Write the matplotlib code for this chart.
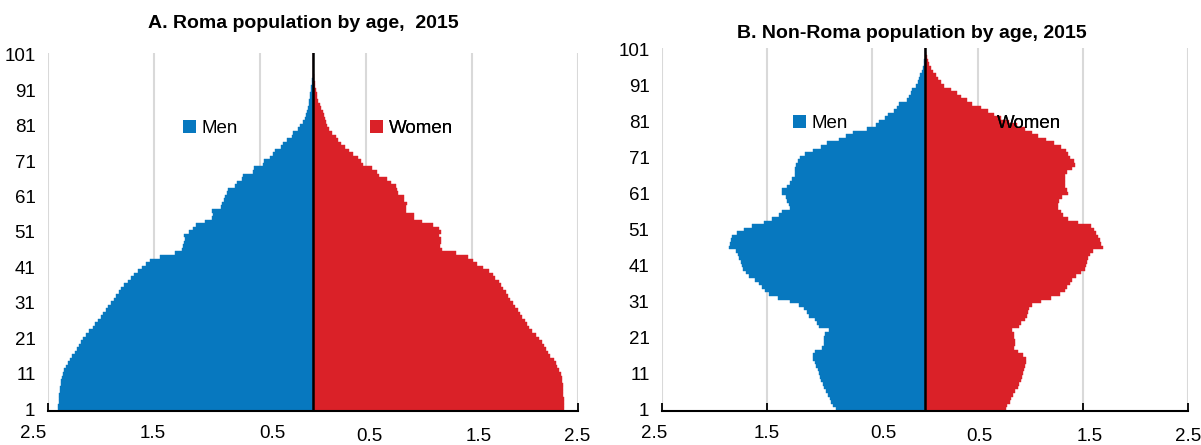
import matplotlib
matplotlib.use("Agg")
import matplotlib.pyplot as plt
from matplotlib import font_manager
from matplotlib.transforms import ScaledTranslation
from matplotlib.patches import Patch
import numpy as np

# ---------------- data ----------------
ages = list(range(1, 102))
ytick_vals = list(range(1, 102, 10))
xtick_vals = [-2.5, -1.5, -0.5, 0.5, 1.5, 2.5]
xtick_labels = ["2.5", "1.5", "0.5", "0.5", "1.5", "2.5"]

roma_men = [
    2.41, 2.41, 2.40, 2.40, 2.40, 2.39, 2.39, 2.38, 2.38, 2.37,
    2.36, 2.35, 2.33, 2.31, 2.29, 2.27, 2.25, 2.23, 2.21, 2.19,
    2.17, 2.14, 2.11, 2.08, 2.06, 2.03, 2.00, 1.98, 1.95, 1.93,
    1.91, 1.88, 1.86, 1.83, 1.81, 1.78, 1.75, 1.72, 1.69, 1.65,
    1.61, 1.58, 1.54, 1.44, 1.30, 1.24, 1.23, 1.22, 1.21, 1.22,
    1.17, 1.13, 1.10, 1.02, 0.95, 0.94, 0.95, 0.87, 0.86, 0.84,
    0.83, 0.81, 0.80, 0.74, 0.72, 0.67, 0.66, 0.57, 0.56, 0.47,
    0.46, 0.41, 0.38, 0.36, 0.30, 0.28, 0.25, 0.20, 0.19, 0.14,
    0.12, 0.09, 0.08, 0.07, 0.06, 0.05, 0.04, 0.035, 0.03, 0.025,
    0.02, 0.015, 0.01, 0.007, 0.004, 0.002, 0.001, 0.0, 0.0, 0.0, 0.0]

roma_women = [
    2.37, 2.37, 2.37, 2.37, 2.36, 2.36, 2.36, 2.36, 2.35, 2.35,
    2.34, 2.32, 2.30, 2.29, 2.27, 2.24, 2.22, 2.20, 2.18, 2.16,
    2.13, 2.10, 2.07, 2.04, 2.02, 2.00, 1.97, 1.95, 1.93, 1.91,
    1.89, 1.86, 1.84, 1.82, 1.79, 1.77, 1.75, 1.72, 1.70, 1.66,
    1.60, 1.55, 1.51, 1.46, 1.35, 1.22, 1.20, 1.21, 1.21, 1.19,
    1.21, 1.19, 1.13, 1.03, 0.95, 0.95, 0.88, 0.88, 0.89, 0.86,
    0.86, 0.80, 0.79, 0.78, 0.74, 0.70, 0.62, 0.60, 0.56, 0.47,
    0.45, 0.42, 0.38, 0.34, 0.30, 0.26, 0.24, 0.22, 0.18, 0.15,
    0.13, 0.12, 0.11, 0.10, 0.09, 0.08, 0.07, 0.05, 0.04, 0.035,
    0.025, 0.02, 0.015, 0.01, 0.006, 0.004, 0.002, 0.001, 0.0, 0.0, 0.0]

nonroma_men = [
    0.85, 0.87, 0.89, 0.90, 0.92, 0.94, 0.96, 0.97, 0.99, 1.00,
    1.01, 1.02, 1.04, 1.05, 1.06, 1.06, 1.05, 0.98, 0.96, 0.96,
    0.96, 0.95, 0.91, 1.01, 1.03, 1.05, 1.10, 1.12, 1.15, 1.20,
    1.28, 1.40, 1.48, 1.52, 1.55, 1.58, 1.62, 1.67, 1.70, 1.73,
    1.74, 1.75, 1.77, 1.78, 1.80, 1.86, 1.85, 1.84, 1.83, 1.79,
    1.72, 1.64, 1.53, 1.45, 1.39, 1.36, 1.28, 1.29, 1.31, 1.32,
    1.36, 1.36, 1.31, 1.28, 1.26, 1.24, 1.24, 1.24, 1.23, 1.21,
    1.19, 1.14, 1.06, 0.99, 0.93, 0.82, 0.75, 0.68, 0.55, 0.47,
    0.44, 0.38, 0.35, 0.29, 0.27, 0.25, 0.17, 0.15, 0.13, 0.12,
    0.09, 0.07, 0.06, 0.045, 0.03, 0.02, 0.012, 0.006, 0.002, 0.001, 0.0]

nonroma_women = [
    0.77, 0.78, 0.81, 0.82, 0.84, 0.86, 0.88, 0.89, 0.91, 0.92,
    0.93, 0.94, 0.95, 0.96, 0.96, 0.93, 0.88, 0.85, 0.86, 0.86,
    0.85, 0.85, 0.83, 0.89, 0.91, 0.95, 0.97, 0.98, 0.99, 1.02,
    1.10, 1.20, 1.28, 1.33, 1.35, 1.38, 1.40, 1.44, 1.48, 1.52,
    1.53, 1.54, 1.55, 1.57, 1.60, 1.69, 1.67, 1.66, 1.64, 1.63,
    1.61, 1.58, 1.45, 1.36, 1.31, 1.29, 1.26, 1.26, 1.27, 1.30,
    1.36, 1.35, 1.33, 1.33, 1.33, 1.33, 1.35, 1.40, 1.43, 1.42,
    1.38, 1.36, 1.34, 1.29, 1.23, 1.15, 1.07, 1.02, 0.95, 0.87,
    0.80, 0.72, 0.66, 0.60, 0.53, 0.45, 0.40, 0.34, 0.30, 0.25,
    0.18, 0.15, 0.12, 0.10, 0.08, 0.06, 0.04, 0.025, 0.015, 0.008, 0.004]

titles = ["A. Roma population by age,  2015", "B. Non-Roma population by age, 2015"]
legend_labels = ["Men", "Women"]

# ---------------- style ----------------
names = {f.name for f in font_manager.fontManager.ttflist}
narrow = "Liberation Sans Narrow" if "Liberation Sans Narrow" in names else "Liberation Sans"
plt.rcParams["font.family"] = [narrow, "DejaVu Sans"]

BLUE = "#0778BF"
RED = "#DA2128"
GRID = "#D9D9D9"

fig = plt.figure(figsize=(12.01, 4.45), dpi=100)
axA = fig.add_axes([48 / 1201, 34 / 445, 530 / 1201, 358 / 445])
axB = fig.add_axes([662 / 1201, 34 / 445, 526 / 1201, 363 / 445])

def px(dx, dy):
    return ScaledTranslation(dx / 100, dy / 100, fig.dpi_scale_trans)

def draw(ax, men, women, label_dx, label_dy, legpos):
    ax.barh(ages, [-m for m in men], height=1.0, color=BLUE,
            edgecolor=BLUE, linewidth=0.3, zorder=2)
    ax.barh(ages, women, height=1.0, color=RED,
            edgecolor=RED, linewidth=0.3, zorder=2)
    ax.axvline(0, color="black", lw=1.8, zorder=3)
    ax.set_xlim(-2.5, 2.5)
    ax.set_ylim(0.5, 101.5)
    for v in xtick_vals:
        ax.axvline(v, color=GRID, lw=1.5, zorder=0)
    ax.set_xticks(xtick_vals)
    ax.set_xticklabels(xtick_labels)
    ax.set_yticks(ytick_vals)
    ax.tick_params(axis="y", length=0, pad=9, labelsize=13.5)
    ax.tick_params(axis="x", direction="in", length=6, width=1.3,
                   pad=11, labelsize=13.5, color="black")
    for sp in ["left", "right", "top"]:
        ax.spines[sp].set_visible(False)
    ax.spines["bottom"].set_linewidth(1.5)
    ax.spines["bottom"].set_zorder(4)
    for lab, dx, dy in zip(ax.get_xticklabels(), label_dx, label_dy):
        lab.set_transform(lab.get_transform() + px(dx, dy))
    handles = [Patch(facecolor=BLUE, edgecolor="none"),
               Patch(facecolor=RED, edgecolor="none")]
    for h, lbl, (x, y) in zip(handles, legend_labels, legpos):
        lg = ax.legend([h], [lbl], loc="center left", bbox_to_anchor=(x, y),
                       frameon=False, fontsize=13.5, handlelength=0.7,
                       handleheight=0.7, handletextpad=0.3, borderpad=0,
                       borderaxespad=0)
        lg.set_zorder(5)
        ax.add_artist(lg)

draw(axA, roma_men, roma_women,
     [-15, -1, 12, 3, 7, -1], [1, 1, 1, -2, -2, -2],
     [(0.255, 0.788), (0.608, 0.788)])
draw(axB, nonroma_men, nonroma_women,
     [-8, -1, 11, 2, 7, 0], [1, 1, 1, -2, -2, -2],
     [(0.249, 0.791), (0.601, 0.791)])

fig.text(303 / 1201, 1 - 24 / 445, titles[0], ha="center", va="center",
         fontsize=14, fontweight="bold")
fig.text(912 / 1201, 1 - 33 / 445, titles[1], ha="center", va="center",
         fontsize=14, fontweight="bold")

fig.savefig("out.png", dpi=100)
